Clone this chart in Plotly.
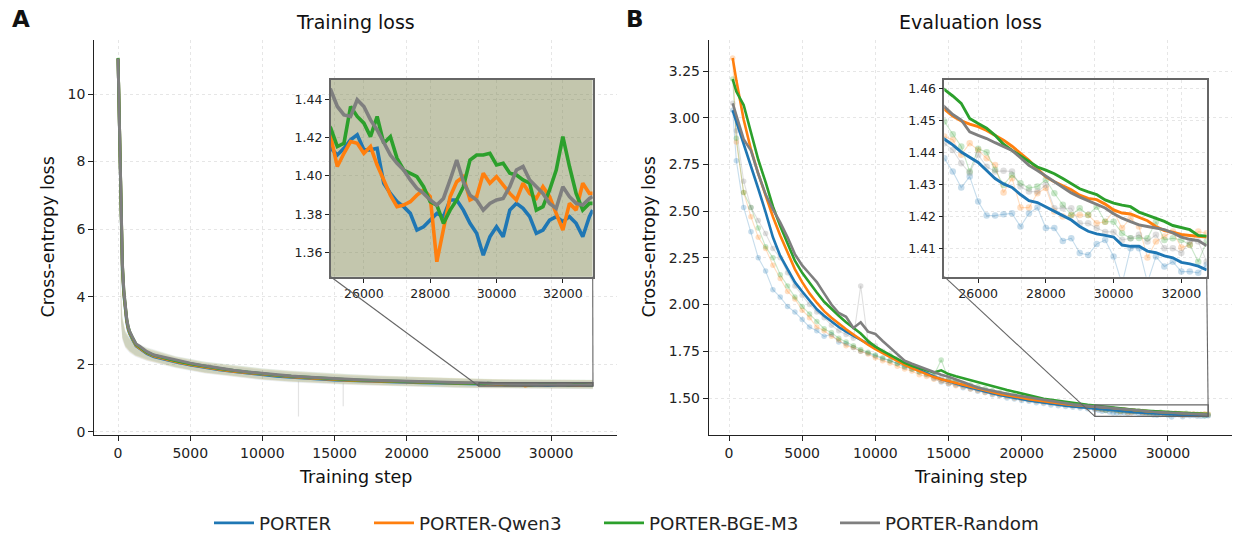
import numpy as np
import plotly.graph_objects as go

W, H = 1235, 537
FONT = "DejaVu Sans"
NAMES = ["PORTER", "PORTER-Qwen3", "PORTER-BGE-M3", "PORTER-Random"]
COLORS = ["#1f77b4", "#ff7f0e", "#2ca02c", "#7f7f7f"]

# ---------------- Panel A: training loss ----------------
train_steps = ([0, 100, 200, 300, 400, 500, 600, 700, 800, 1000, 1250, 1500, 2000, 2500, 3000, 3500, 4000,
                5000, 6000, 7000, 8000, 9000, 10000, 11000, 12000, 13000, 14000, 15000, 16000, 17000, 18000,
                19000, 20000, 21000, 22000, 23000, 24000, 24800]
               + list(range(25000, 32801, 200)) + [32900])

train_porter = [11.04, 9.2, 7.0, 4.8, 4.05, 3.6, 3.25, 3.03, 2.9, 2.73, 2.54, 2.46, 2.31, 2.22, 2.16, 2.11, 2.06,
                1.975, 1.90, 1.835, 1.78, 1.73, 1.685, 1.645, 1.61, 1.58, 1.553, 1.532, 1.513, 1.497, 1.485,
                1.472, 1.46, 1.45, 1.44, 1.432, 1.425, 1.418,
                1.4144, 1.4109, 1.4144, 1.4188, 1.4214, 1.4136, 1.4136, 1.4144, 1.3962, 1.3909, 1.3866, 1.384,
                1.3805, 1.3718, 1.3735, 1.377, 1.3805, 1.3788, 1.3875, 1.3875, 1.3822, 1.3753, 1.3701, 1.3587,
                1.3683, 1.3735, 1.3683, 1.3822, 1.3857, 1.3831, 1.3788, 1.3701, 1.3718, 1.377, 1.3788, 1.3762,
                1.3788, 1.3753, 1.3683, 1.3788, 1.3822]
train_qwen3 = [11.05, 9.25, 7.1, 4.9, 4.1, 3.65, 3.3, 3.07, 2.93, 2.76, 2.56, 2.48, 2.33, 2.24, 2.18, 2.13, 2.08,
               1.99, 1.915, 1.85, 1.79, 1.745, 1.70, 1.66, 1.625, 1.595, 1.568, 1.547, 1.527, 1.51, 1.496,
               1.482, 1.47, 1.46, 1.448, 1.44, 1.432, 1.425,
               1.4205, 1.4049, 1.4118, 1.4179, 1.417, 1.4118, 1.4153, 1.4057, 1.3979, 1.39, 1.384, 1.3848,
               1.3866, 1.39, 1.3927, 1.3892, 1.3553, 1.3735, 1.3892, 1.397, 1.3996, 1.3875, 1.3892, 1.4014,
               1.3962, 1.3996, 1.3953, 1.3909, 1.3875, 1.3962, 1.3909, 1.3883, 1.3944, 1.3892, 1.3805, 1.3718,
               1.3857, 1.3822, 1.3962, 1.3909, 1.3909]
train_bge = [11.07, 9.3, 7.15, 4.95, 4.15, 3.68, 3.33, 3.1, 2.96, 2.78, 2.58, 2.51, 2.35, 2.26, 2.20, 2.15, 2.10,
             2.01, 1.935, 1.87, 1.81, 1.76, 1.715, 1.675, 1.64, 1.61, 1.582, 1.56, 1.54, 1.523, 1.508,
             1.494, 1.48, 1.468, 1.457, 1.447, 1.438, 1.43,
             1.4249, 1.4153, 1.417, 1.4362, 1.431, 1.4275, 1.4205, 1.431, 1.417, 1.4205, 1.4092, 1.4031,
             1.4014, 1.3996, 1.3944, 1.3866, 1.3848, 1.3753, 1.3822, 1.3875, 1.3944, 1.4083, 1.4109, 1.4109,
             1.4118, 1.4057, 1.4066, 1.4014, 1.4005, 1.3979, 1.3962, 1.3822, 1.384, 1.3927, 1.4031, 1.4205,
             1.4049, 1.3909, 1.3822, 1.3857, 1.3857]
train_random = [11.05, 9.3, 7.2, 5.0, 4.2, 3.7, 3.35, 3.12, 2.98, 2.80, 2.60, 2.53, 2.37, 2.27, 2.22, 2.17, 2.12,
                2.03, 1.95, 1.88, 1.82, 1.77, 1.725, 1.685, 1.65, 1.62, 1.592, 1.57, 1.55, 1.533, 1.518,
                1.503, 1.49, 1.478, 1.466, 1.457, 1.45, 1.446,
                1.4449, 1.4362, 1.4318, 1.431, 1.4397, 1.4362, 1.4292, 1.424, 1.4179, 1.4109, 1.4066, 1.4031,
                1.3979, 1.3935, 1.3909, 1.3875, 1.3848, 1.3883, 1.3979, 1.4083, 1.397, 1.39, 1.3875, 1.3822,
                1.3857, 1.3875, 1.3883, 1.3944, 1.4031, 1.4049, 1.3979, 1.3944, 1.3909, 1.3857, 1.3831, 1.3944,
                1.3892, 1.3857, 1.3848, 1.3883, 1.3892]

# raw (unsmoothed) training-loss spread: lower / upper envelope
raw_steps = [0, 100, 200, 300, 500, 800, 1200, 2000, 3000, 4000, 6000, 8000, 10000, 12000, 14000, 16000,
             18000, 20000, 22000, 24000, 26000, 28000, 30000, 32900]
raw_lo_porter = [11.0, 5.8, 3.2, 2.7, 2.48, 2.33, 2.22, 2.09, 1.98, 1.88, 1.72, 1.61, 1.52, 1.46, 1.41, 1.38,
                 1.36, 1.33, 1.31, 1.29, 1.28, 1.27, 1.26, 1.26]
raw_hi_porter = [11.1, 7.8, 4.1, 3.3, 2.92, 2.72, 2.58, 2.43, 2.30, 2.19, 2.03, 1.92, 1.83, 1.76, 1.70, 1.66,
                 1.63, 1.60, 1.57, 1.55, 1.53, 1.52, 1.51, 1.51]
raw_lo_qwen3 = [11.0, 5.9, 3.25, 2.75, 2.5, 2.36, 2.24, 2.11, 2.0, 1.9, 1.74, 1.63, 1.54, 1.48, 1.43, 1.40,
                1.37, 1.34, 1.32, 1.30, 1.29, 1.28, 1.27, 1.27]
raw_hi_qwen3 = [11.1, 7.9, 4.2, 3.35, 2.95, 2.75, 2.61, 2.46, 2.33, 2.21, 2.05, 1.94, 1.85, 1.78, 1.72, 1.68,
                1.65, 1.62, 1.59, 1.56, 1.55, 1.54, 1.53, 1.53]
raw_lo_bge = [11.0, 6.0, 3.3, 2.78, 2.53, 2.38, 2.26, 2.13, 2.02, 1.91, 1.75, 1.64, 1.55, 1.49, 1.44, 1.41,
              1.38, 1.35, 1.33, 1.31, 1.30, 1.29, 1.28, 1.28]
raw_hi_bge = [11.1, 8.0, 4.3, 3.4, 2.98, 2.78, 2.63, 2.48, 2.35, 2.23, 2.07, 1.96, 1.87, 1.80, 1.74, 1.70,
              1.66, 1.63, 1.60, 1.57, 1.56, 1.55, 1.54, 1.54]
raw_lo_random = [11.0, 6.0, 3.3, 2.8, 2.55, 2.4, 2.28, 2.15, 2.03, 1.92, 1.76, 1.65, 1.56, 1.50, 1.45, 1.42,
                 1.39, 1.36, 1.34, 1.32, 1.30, 1.29, 1.28, 1.28]
raw_hi_random = [11.1, 8.0, 4.3, 3.4, 3.0, 2.8, 2.65, 2.5, 2.36, 2.24, 2.08, 1.97, 1.88, 1.81, 1.75, 1.71,
                 1.67, 1.63, 1.60, 1.57, 1.55, 1.54, 1.53, 1.53]
spike_steps_random = [12500, 15600]
spike_vals_random = [0.45, 0.75]

# ---------------- Panel B: evaluation loss ----------------
eval_steps = [250] + list(range(500, 25000, 500)) + list(range(25000, 32751, 250))

eval_porter = [3.04, 2.98, 2.86, 2.75, 2.62, 2.495, 2.36, 2.26, 2.19, 2.12, 2.07, 2.02, 1.975, 1.94, 1.91, 1.88,
               1.855, 1.832, 1.81, 1.79, 1.768, 1.746, 1.725, 1.705, 1.685, 1.667, 1.65, 1.633, 1.615, 1.60,
               1.59, 1.577, 1.565, 1.554, 1.543, 1.534, 1.525, 1.516, 1.508, 1.50, 1.493, 1.487, 1.481, 1.475,
               1.469, 1.464, 1.459, 1.455, 1.451, 1.448,
               1.4445, 1.4425, 1.4403, 1.4387, 1.437, 1.4345, 1.432, 1.4303, 1.4292, 1.427, 1.4251, 1.4245,
               1.4232, 1.4218, 1.4204, 1.419, 1.417, 1.4155, 1.4147, 1.4142, 1.4137, 1.4112, 1.4108, 1.4108,
               1.4093, 1.4088, 1.4078, 1.4072, 1.4058, 1.4053, 1.4046, 1.4034]
eval_qwen3 = [3.32, 3.20, 2.99, 2.83, 2.70, 2.58, 2.47, 2.37, 2.28, 2.19, 2.12, 2.06, 2.01, 1.965, 1.93, 1.897,
              1.868, 1.84, 1.812, 1.785, 1.762, 1.74, 1.72, 1.699, 1.678, 1.66, 1.643, 1.627, 1.612, 1.60,
              1.59, 1.579, 1.568, 1.558, 1.548, 1.539, 1.53, 1.522, 1.515, 1.507, 1.50, 1.494, 1.488, 1.482,
              1.477, 1.472, 1.467, 1.463, 1.459, 1.456,
              1.4537, 1.4515, 1.450, 1.449, 1.4482, 1.447, 1.4456, 1.444, 1.4421, 1.440, 1.4377, 1.435,
              1.4325, 1.431, 1.4298, 1.4285, 1.4268, 1.4258, 1.4254, 1.424, 1.4222, 1.4212, 1.4209, 1.4198,
              1.4188, 1.417, 1.4157, 1.4152, 1.4145, 1.4142, 1.414, 1.4137]
eval_bge = [3.207, 3.14, 3.068, 2.92, 2.775, 2.655, 2.525, 2.42, 2.33, 2.235, 2.17, 2.115, 2.065, 2.015, 1.975,
            1.94, 1.905, 1.875, 1.845, 1.805, 1.775, 1.752, 1.73, 1.708, 1.688, 1.673, 1.66, 1.648, 1.637,
            1.648, 1.628, 1.616, 1.605, 1.594, 1.583, 1.572, 1.562, 1.552, 1.543, 1.534, 1.525, 1.514, 1.503,
            1.496, 1.49, 1.484, 1.478, 1.473, 1.468, 1.464,
            1.460, 1.4578, 1.4555, 1.4508, 1.4492, 1.4477, 1.4455, 1.4427, 1.4408, 1.439, 1.4372, 1.4356,
            1.4346, 1.4335, 1.432, 1.4303, 1.4288, 1.4278, 1.427, 1.4253, 1.4243, 1.4237, 1.4232, 1.4215,
            1.4205, 1.4197, 1.4186, 1.4173, 1.4166, 1.416, 1.4142, 1.414]
eval_random = [3.077, 3.013, 2.885, 2.824, 2.70, 2.59, 2.51, 2.44, 2.36, 2.27, 2.21, 2.165, 2.12, 2.06, 2.00,
               1.955, 1.935, 1.875, 1.905, 1.855, 1.843, 1.805, 1.77, 1.735, 1.70, 1.683, 1.668, 1.652, 1.638,
               1.625, 1.614, 1.60, 1.585, 1.57, 1.556, 1.547, 1.538, 1.53, 1.523, 1.516, 1.51, 1.503, 1.496,
               1.489, 1.482, 1.476, 1.47, 1.466, 1.462, 1.458,
               1.4545, 1.452, 1.4503, 1.4466, 1.4455, 1.4445, 1.4432, 1.442, 1.4408, 1.4385, 1.4361, 1.4345,
               1.4327, 1.431, 1.4293, 1.4275, 1.4262, 1.425, 1.4238, 1.4228, 1.421, 1.4196, 1.4185, 1.4175,
               1.417, 1.4165, 1.416, 1.415, 1.4137, 1.413, 1.4126, 1.411]

eval_raw_porter = [3.04, 2.77, 2.52, 2.39, 2.25, 2.18, 2.08, 2.04, 1.99, 1.96, 1.92, 1.88, 1.86, 1.83, 1.84,
                   1.80, 1.79, 1.77, 1.75, 1.74, 1.725, 1.71, 1.70, 1.685, 1.665, 1.655, 1.64, 1.625, 1.605,
                   1.585, 1.575, 1.57, 1.555, 1.548, 1.536, 1.53, 1.518, 1.512, 1.50, 1.495, 1.487, 1.482,
                   1.475, 1.47, 1.462, 1.458, 1.454, 1.45, 1.446, 1.443,
                   1.4383, 1.4342, 1.4292, 1.4326, 1.4248, 1.4204, 1.4204, 1.4208, 1.4211, 1.417, 1.4211,
                   1.4229, 1.4165, 1.4165, 1.4125, 1.4133, 1.4087, 1.4081, 1.4115, 1.4128, 1.4076, 1.399,
                   1.4102, 1.4102, 1.3995, 1.4076, 1.4045, 1.406, 1.4029, 1.4029, 1.4025, 1.405]
eval_raw_qwen3 = [3.32, 2.87, 2.60, 2.47, 2.36, 2.30, 2.21, 2.14, 2.07, 2.03, 1.97, 1.93, 1.88, 1.86, 1.83,
                  1.81, 1.78, 1.77, 1.75, 1.735, 1.715, 1.70, 1.688, 1.67, 1.655, 1.645, 1.625, 1.615, 1.60,
                  1.59, 1.578, 1.566, 1.56, 1.548, 1.54, 1.53, 1.522, 1.515, 1.508, 1.50, 1.494, 1.488,
                  1.482, 1.476, 1.472, 1.467, 1.462, 1.459, 1.455, 1.451,
                  1.4451, 1.4441, 1.4394, 1.443, 1.4409, 1.4383, 1.4362, 1.4276, 1.4321, 1.4229, 1.4229,
                  1.4274, 1.429, 1.4217, 1.4201, 1.4205, 1.4206, 1.4206, 1.418, 1.4185, 1.4217, 1.4165,
                  1.4196, 1.417, 1.4073, 1.4123, 1.4139, 1.4154, 1.4104, 1.4112, 1.4154, 1.4149]
eval_raw_bge = [3.207, 2.89, 2.60, 2.52, 2.41, 2.31, 2.25, 2.16, 2.10, 2.04, 1.99, 1.95, 1.91, 1.87, 1.85,
                1.82, 1.80, 1.78, 1.76, 1.745, 1.73, 1.715, 1.70, 1.685, 1.67, 1.655, 1.64, 1.63, 1.62,
                1.703, 1.60, 1.59, 1.578, 1.57, 1.56, 1.55, 1.54, 1.53, 1.522, 1.515, 1.507, 1.50, 1.49,
                1.484, 1.479, 1.473, 1.468, 1.463, 1.459, 1.455,
                1.4498, 1.4458, 1.442, 1.4342, 1.4413, 1.4402, 1.4347, 1.430, 1.4331, 1.4305, 1.429, 1.4295,
                1.4316, 1.4274, 1.4238, 1.4206, 1.4227, 1.4206, 1.4232, 1.4185, 1.4185, 1.4149, 1.4133,
                1.4134, 1.4133, 1.4185, 1.4128, 1.4133, 1.4128, 1.4113, 1.406, 1.4123]
eval_raw_random = [3.077, 2.93, 2.66, 2.52, 2.45, 2.38, 2.30, 2.25, 2.17, 2.10, 2.05, 2.00, 1.96, 1.93, 1.89,
                   1.86, 1.84, 1.82, 2.10, 1.80, 1.78, 1.75, 1.73, 1.71, 1.69, 1.67, 1.655, 1.64, 1.625,
                   1.61, 1.60, 1.585, 1.572, 1.56, 1.55, 1.54, 1.53, 1.522, 1.515, 1.508, 1.502, 1.495,
                   1.488, 1.482, 1.476, 1.47, 1.465, 1.46, 1.456, 1.452,
                   1.443, 1.4409, 1.4368, 1.4337, 1.4394, 1.4357, 1.4342, 1.4344, 1.4342, 1.4295, 1.4279,
                   1.4279, 1.430, 1.4227, 1.4227, 1.4227, 1.418, 1.418, 1.4165, 1.4153, 1.4153, 1.4128,
                   1.4133, 1.4144, 1.4123, 1.4144, 1.4102, 1.4102, 1.4087, 1.4123, 1.4123, 1.406]

train_series = [train_porter, train_qwen3, train_bge, train_random]
raw_lo = [raw_lo_porter, raw_lo_qwen3, raw_lo_bge, raw_lo_random]
raw_hi = [raw_hi_porter, raw_hi_qwen3, raw_hi_bge, raw_hi_random]
eval_series = [eval_porter, eval_qwen3, eval_bge, eval_random]
eval_raw = [eval_raw_porter, eval_raw_qwen3, eval_raw_bge, eval_raw_random]
RAW_ALPHA = [0.12, 0.18, 0.15, 0.12]


# ---------------- layout geometry ----------------
def px_x(p):
    return p / W


def px_y(p):
    return 1 - p / H


A_xdom = [px_x(94.3), px_x(616.7)]
B_xdom = [px_x(708.9), px_x(1232)]
M_ydom = [px_y(435), px_y(40)]
Ai_xdom = [px_x(330.7), px_x(592.7)]
Bi_xdom = [px_x(944.3), px_x(1206.7)]
I_ydom = [px_y(276.7), px_y(80)]

A_xr, A_yr = [-1645, 34545], [-0.098, 11.6]
Ai_xr, Ai_yr = [25000, 32900], [1.3475, 1.45]
B_xr, B_yr = [-1375, 34375], [1.302, 3.416]
Bi_xr, Bi_yr = [25000, 32750], [1.4013, 1.4628]


def rgba(hexc, a):
    h = hexc.lstrip("#")
    return "rgba(%d,%d,%d,%.3f)" % (int(h[0:2], 16), int(h[2:4], 16), int(h[4:6], 16), a)


fig = go.Figure()

# ---- Panel A (main + inset share same data) ----
for ax_x, ax_y, lw, afac in (("x", "y", 3.0, 0.75), ("x2", "y2", 3.6, 1.0)):
    for i in range(4):
        fig.add_trace(go.Scatter(x=raw_steps, y=raw_lo[i], mode="lines", line=dict(width=0),
                                 xaxis=ax_x, yaxis=ax_y, showlegend=False, hoverinfo="skip"))
        fig.add_trace(go.Scatter(x=raw_steps, y=raw_hi[i], mode="lines", line=dict(width=0),
                                 fill="tonexty", fillcolor=rgba(COLORS[i], RAW_ALPHA[i] * afac),
                                 xaxis=ax_x, yaxis=ax_y, showlegend=False, hoverinfo="skip"))
    sx, sy = [], []
    for s, v in zip(spike_steps_random, spike_vals_random):
        sx += [s, s, None]
        sy += [float(np.interp(s, raw_steps, raw_lo_random)), v, None]
    fig.add_trace(go.Scatter(x=sx, y=sy, mode="lines", line=dict(color=rgba(COLORS[3], 0.22), width=1.2),
                             xaxis=ax_x, yaxis=ax_y, showlegend=False, hoverinfo="skip"))
    for i in range(4):
        fig.add_trace(go.Scatter(x=train_steps, y=train_series[i], mode="lines",
                                 line=dict(color=COLORS[i], width=lw),
                                 xaxis=ax_x, yaxis=ax_y, showlegend=False))

# ---- Panel B (main + inset) ----
LEGEND_IDS = ["legend", "legend2", "legend3", "legend4"]
for ax_x, ax_y, lw, ms in (("x3", "y3", 2.6, 5.5), ("x4", "y4", 2.9, 6.5)):
    for i in range(4):
        fig.add_trace(go.Scatter(x=eval_steps, y=eval_raw[i], mode="lines+markers",
                                 line=dict(color=rgba(COLORS[i], 0.25), width=1.1),
                                 marker=dict(color=rgba(COLORS[i], 0.25), size=ms, line=dict(width=0)),
                                 xaxis=ax_x, yaxis=ax_y, showlegend=False, hoverinfo="skip"))
    for i in range(4):
        fig.add_trace(go.Scatter(x=eval_steps, y=eval_series[i], mode="lines",
                                 line=dict(color=COLORS[i], width=lw), name=NAMES[i],
                                 legend=LEGEND_IDS[i],
                                 xaxis=ax_x, yaxis=ax_y, showlegend=(ax_x == "x3")))

grid = dict(showgrid=True, gridcolor="#e6e6e6", griddash="3px,3px", gridwidth=0.8, zeroline=False,
            automargin=False)
main_ax = dict(grid, ticks="outside", ticklen=5, tickwidth=1.2, tickcolor="#222", showline=True,
               linecolor="#222", linewidth=1.2, tickfont=dict(family=FONT, size=14, color="#222"))
inset_ax = dict(grid, ticks="outside", ticklen=4, tickwidth=1.1, tickcolor="#222", showline=True, mirror=True,
                linecolor="#666", linewidth=1.6, tickfont=dict(family=FONT, size=12.5, color="#222"))

# one legend box per entry, placed where the reference entries sit
legend_left_px = [209, 369, 599, 835]
legends = {}
for lid, lx in zip(LEGEND_IDS, legend_left_px):
    legends[lid] = dict(orientation="h", x=px_x(lx), xanchor="left", y=px_y(523), yanchor="middle",
                        font=dict(family=FONT, size=18.3, color="#222"), bgcolor="rgba(0,0,0,0)",
                        itemwidth=40)

fig.update_layout(
    width=W, height=H, margin=dict(l=0, r=0, t=0, b=0, autoexpand=False), autosize=False,
    paper_bgcolor="white", plot_bgcolor="rgba(0,0,0,0)",
    font=dict(family=FONT, color="#222"),
    xaxis=dict(main_ax, domain=A_xdom, range=A_xr, anchor="y", tickmode="linear", tick0=0, dtick=5000,
               tickformat="d"),
    yaxis=dict(main_ax, domain=M_ydom, range=A_yr, anchor="x", tickmode="linear", tick0=0, dtick=2),
    xaxis2=dict(inset_ax, domain=Ai_xdom, range=Ai_xr, anchor="y2", tickmode="linear", tick0=0, dtick=2000,
                tickformat="d"),
    yaxis2=dict(inset_ax, domain=I_ydom, range=Ai_yr, anchor="x2", tickmode="linear", tick0=0, dtick=0.02,
                tickformat=".2f"),
    xaxis3=dict(main_ax, domain=B_xdom, range=B_xr, anchor="y3", tickmode="linear", tick0=0, dtick=5000,
                tickformat="d"),
    yaxis3=dict(main_ax, domain=M_ydom, range=B_yr, anchor="x3", tickmode="linear", tick0=0, dtick=0.25,
                tickformat=".2f"),
    xaxis4=dict(inset_ax, domain=Bi_xdom, range=Bi_xr, anchor="y4", tickmode="linear", tick0=0, dtick=2000,
                tickformat="d"),
    yaxis4=dict(inset_ax, domain=I_ydom, range=Bi_yr, anchor="x4", tickmode="linear", tick0=0, dtick=0.01,
                tickformat=".2f"),
    showlegend=True,
    **legends,
)


def to_data(frac, dom, rng):
    return rng[0] + (frac - dom[0]) / (dom[1] - dom[0]) * (rng[1] - rng[0])


shapes = []
for (xr_i, yr_i, xdom_i, xdom_m, xr_m, yr_m, xref, yref) in (
        (Ai_xr, Ai_yr, Ai_xdom, A_xdom, A_xr, A_yr, "x", "y"),
        (Bi_xr, Bi_yr, Bi_xdom, B_xdom, B_xr, B_yr, "x3", "y3")):
    shapes.append(dict(type="rect", xref=xref, yref=yref, x0=xr_i[0], x1=xr_i[1], y0=yr_i[0], y1=yr_i[1],
                       line=dict(color="#666", width=1.3), layer="above"))
    iy = to_data(I_ydom[0], M_ydom, yr_m)
    for corner in (0, 1):
        ix = to_data(xdom_i[corner], xdom_m, xr_m)
        shapes.append(dict(type="line", xref=xref, yref=yref, x0=ix, y0=iy, x1=xr_i[corner], y1=yr_i[0],
                           line=dict(color="#666", width=1.1), layer="above"))
fig.update_layout(shapes=shapes)

ann = []


def text(x, y, s, size, bold=False, angle=0):
    ann.append(dict(x=x, y=y, xref="paper", yref="paper", text=("<b>%s</b>" % s) if bold else s,
                    showarrow=False, textangle=angle, xanchor="center", yanchor="middle",
                    font=dict(family=FONT, size=size, color="#111")))


text((A_xdom[0] + A_xdom[1]) / 2, px_y(22), "Training loss", 19)
text((B_xdom[0] + B_xdom[1]) / 2, px_y(22), "Evaluation loss", 19)
text(px_x(21), px_y(19), "A", 23, bold=True)
text(px_x(635), px_y(19), "B", 23, bold=True)
text((A_xdom[0] + A_xdom[1]) / 2, px_y(477), "Training step", 17.5)
text((B_xdom[0] + B_xdom[1]) / 2, px_y(477), "Training step", 17.5)
text(px_x(47), (M_ydom[0] + M_ydom[1]) / 2, "Cross-entropy loss", 17.5, angle=-90)
text(px_x(648), (M_ydom[0] + M_ydom[1]) / 2, "Cross-entropy loss", 17.5, angle=-90)
fig.update_layout(annotations=ann)

# the page body's default 8px margin would shift the figure; remove it
fig.write_html("out.html", config={"displayModeBar": False},
               post_script="document.body.style.margin='0';")
